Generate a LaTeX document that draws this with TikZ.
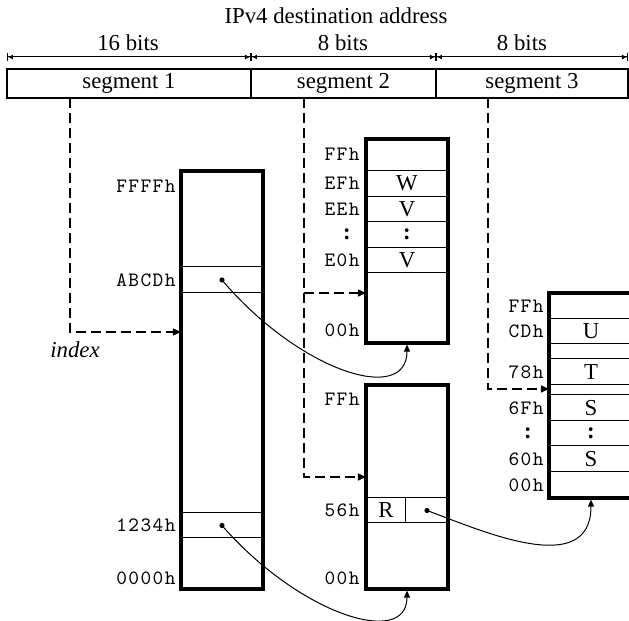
\documentclass[tikz,border=0pt]{standalone}
\usepackage{fontspec}
\setmainfont{Liberation Serif}
\setmonofont{Latin Modern Mono}[LetterSpace=7]
\usetikzlibrary{arrows.meta,positioning}

\begin{document}
\begin{tikzpicture}[
    x=0.5pt, y=-0.5pt,
    every node/.style={font=\fontsize{11.4}{13}\selectfont, inner sep=0pt},
    segbox/.style={rectangle, draw, line width=0.6pt, minimum height=14.5pt},
    membox/.style={rectangle, draw, line width=1.6pt, minimum width=41pt},
    cell/.style={rectangle, draw, line width=0.5pt, minimum width=41pt, minimum height=12.75pt},
    addr/.style={anchor=east, font=\fontsize{10.2}{11}\selectfont\ttfamily},
    vdots/.style={font=\fontsize{11.4}{13}\selectfont\bfseries},
    dim/.style={{Bar[width=4pt]Latex[length=2.5pt,width=2.5pt]}-{Latex[length=2.5pt,width=2.5pt]Bar[width=4pt]}, line width=0.5pt},
    dasharrow/.style={-{Triangle[length=4pt,width=3.5pt]}, line width=0.7pt, dash pattern=on 5pt off 2.5pt},
    ptrarrow/.style={-{Triangle[length=3.5pt,width=3pt]}, line width=0.5pt},
    ]
    \useasboundingbox (0,0) rectangle (629,621);
    % Address and field widths
    \node (title) at (336,16) {IPv4 destination address};
    \node (w1) at (128,43) {16 bits};
    \node (w2) at (343,43) {8 bits};
    \node (w3) at (522,43) {8 bits};
    \coordinate (t0) at (7,57);
    \coordinate (t1) at (251,57);
    \coordinate (t2) at (436,57);
    \coordinate (t3) at (628,57);
    \draw[dim] (t0) -- (t1);
    \draw[dim] (t1) -- (t2);
    \draw[dim] (t2) -- (t3);
    \node[segbox, minimum width=122pt]  (seg1) at (129,83.5)   {segment 1};
    \node[segbox, minimum width=92.5pt] (seg2) at (343.5,83.5) {segment 2};
    \node[segbox, minimum width=96pt]   (seg3) at (532,83.5)   {segment 3};
    % Tables
    \node[membox, minimum height=209pt] (m1) at (222,380) {};
    \node[membox, minimum height=102pt] (m2) at (407,241) {};
    \node[membox, minimum height=102pt] (m3) at (407,487) {};
    \node[membox, minimum width=42pt, minimum height=102.5pt] (m4) at (591,395.5) {};
    % Table 1
    \node[cell, minimum height=13pt]   (abcd) at (222,280)   {};
    \node[cell, minimum height=12.5pt] (c1234) at (222,525.5) {};
    \node[addr] (a1) at (176,186) {FFFFh};
    \node[addr] (a2) at (176,280) {ABCDh};
    \node[addr] (a3) at (176,525) {1234h};
    \node[addr] (a4) at (176,578) {0000h};
    % Table 2
    \node[cell] (ef) at (407,183.5) {W};
    \node[cell] (ee) at (407,209)   {V};
    \node[cell] (ed) at (407,234.5) {\textbf{:}};
    \node[cell] (e0) at (407,260)   {V};
    \node[addr] (b1) at (360,154)   {FFh};
    \node[addr] (b2) at (360,183.5) {EFh};
    \node[addr] (b3) at (360,209)   {EEh};
    \node[vdots] (b4) at (347,234.5) {:};
    \node[addr] (b5) at (360,260)   {E0h};
    \node[addr] (b6) at (360,330)   {00h};
    % Table 3
    \node[cell, minimum width=20pt, minimum height=12.5pt] (rval) at (386,510.5) {R};
    \node[cell, minimum width=21pt, minimum height=12.5pt] (rptr) at (427,510.5) {};
    \node[addr] (c1) at (360,399)   {FFh};
    \node[addr] (c2) at (360,510.5) {56h};
    \node[addr] (c3) at (360,578)   {00h};
    % Table 4
    \node[cell, minimum width=42pt, minimum height=12.5pt] (cd) at (591,331.5) {U};
    \node[cell, minimum width=42pt, minimum height=13pt]   (x78) at (591,372) {T};
    \node[cell, minimum width=42pt, minimum height=13pt]   (x6f) at (591,408) {S};
    \node[cell, minimum width=42pt, minimum height=12.5pt] (x6e) at (591,433.5) {\textbf{:}};
    \node[cell, minimum width=42pt, minimum height=13pt]   (x60) at (591,459) {S};
    \node[addr] (d1) at (544,306)   {FFh};
    \node[addr] (d2) at (544,331.5) {CDh};
    \node[addr] (d3) at (544,372)   {78h};
    \node[addr] (d4) at (544,408)   {6Fh};
    \node[vdots] (d5) at (528,433.5) {:};
    \node[addr] (d6) at (544,459)   {60h};
    \node[addr] (d7) at (544,485)   {00h};
    % Segment lookups
    \coordinate (s1) at (70,98);
    \coordinate (s2) at (304,98);
    \coordinate (s3) at (488,98);
    \coordinate (in1) at (181,332);
    \coordinate (in2) at (366,293);
    \coordinate (in3) at (366,477);
    \coordinate (in4) at (549,389);
    \draw[dasharrow] (s1) |- (in1);
    \draw[dasharrow] (s2) |- (in3);
    \draw[dasharrow] (s2 |- in2) -- (in2);
    \draw[dasharrow] (s3) |- (in4);
    \node[font=\fontsize{11.4}{13}\selectfont\itshape] (idx) at (75,350) {index};
    % Pointers
    \fill (abcd.center) circle (1.3pt);
    \fill (c1234.center) circle (1.3pt);
    \fill (rptr.center) circle (1.3pt);
    \draw[ptrarrow] (abcd.center) .. controls (300,372) and (407,405) .. (m2.south);
    \draw[ptrarrow] (c1234.center) .. controls (300,615) and (407,648) .. (m3.south);
    \draw[ptrarrow] (rptr.center) .. controls (480,530) and (591,580) .. (m4.south);
\end{tikzpicture}
\end{document}
